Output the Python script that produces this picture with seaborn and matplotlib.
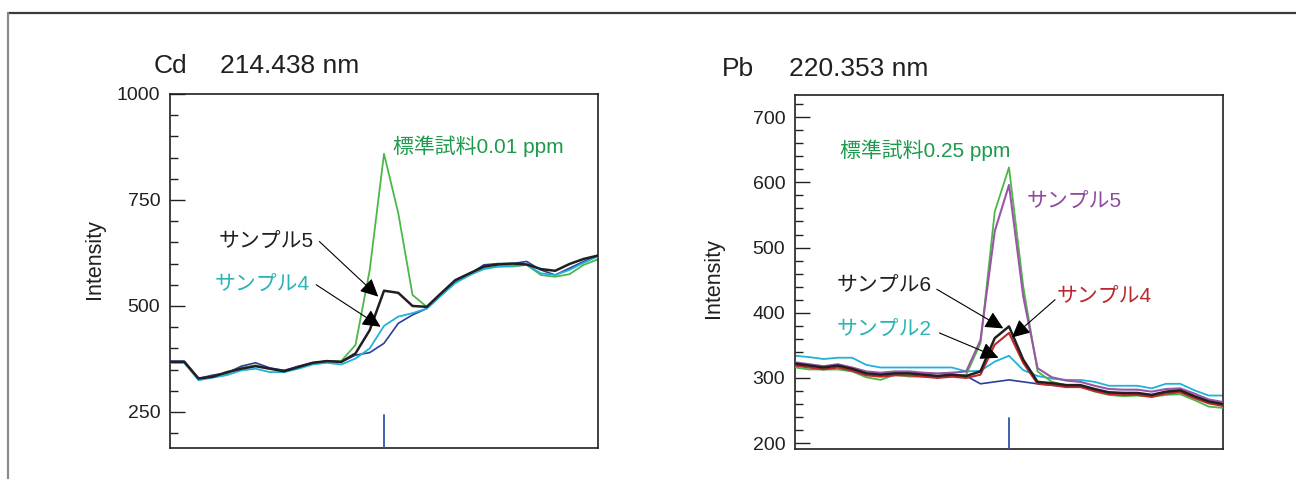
import matplotlib
matplotlib.use("Agg")
import matplotlib.pyplot as plt
from matplotlib.lines import Line2D
from matplotlib.ticker import MultipleLocator
import numpy as np
import pandas as pd
import seaborn as sns

# ---------------- data ----------------
idx = list(range(31))

cd_std = [368, 368, 327, 333, 340, 354, 360, 352, 348, 354, 364, 370, 370, 408, 585, 859, 719, 526,
          498, 530, 557, 573, 589, 593, 593, 597, 573, 569, 575, 597, 610]
cd_s5 = [368, 368, 329, 333, 344, 352, 358, 352, 346, 356, 366, 370, 368, 388, 443, 536, 531, 500,
         498, 530, 561, 577, 593, 598, 600, 598, 587, 583, 599, 611, 619]
cd_s4 = [366, 366, 325, 331, 337, 348, 352, 344, 344, 352, 362, 366, 362, 376, 400, 453, 475, 483,
         494, 525, 554, 573, 587, 593, 595, 597, 577, 573, 585, 602, 617]
cd_blank = [370, 370, 329, 337, 342, 358, 366, 354, 348, 358, 366, 370, 368, 384, 390, 412, 459, 479,
            494, 525, 555, 575, 597, 600, 600, 605, 585, 573, 589, 605, 618]

pb_std = [316, 313, 313, 313, 310, 301, 297, 305, 302, 302, 302, 302, 305, 353, 555, 623, 440, 310,
          294, 289, 287, 279, 274, 272, 273, 271, 274, 275, 266, 256, 254]
pb_s5 = [324, 321, 318, 321, 316, 310, 308, 310, 310, 308, 307, 308, 310, 358, 525, 596, 425, 315,
         301, 296, 294, 288, 283, 282, 282, 279, 283, 284, 276, 267, 263]
pb_s6 = [322, 319, 316, 319, 314, 307, 305, 307, 307, 305, 303, 305, 303, 310, 361, 379, 328, 294,
         292, 289, 289, 283, 278, 277, 277, 274, 279, 281, 272, 264, 260]
pb_s4 = [319, 316, 313, 316, 311, 304, 302, 304, 304, 302, 300, 302, 300, 305, 351, 369, 323, 291,
         289, 286, 286, 280, 275, 274, 274, 271, 276, 278, 269, 261, 257]
pb_s2 = [334, 332, 329, 331, 331, 320, 316, 316, 316, 316, 316, 316, 310, 311, 325, 334, 312, 303,
         299, 297, 297, 294, 288, 288, 288, 284, 291, 291, 281, 273, 273]
pb_blank = [322, 319, 316, 319, 314, 307, 305, 307, 307, 305, 303, 305, 303, 291, 294, 297, 294, 291,
            289, 287, 287, 282, 277, 276, 276, 273, 278, 280, 271, 263, 259]

title_el = ["Cd", "Pb"]
title_wl = ["214.438 nm", "220.353 nm"]
ylabel = "Intensity"
lbl_std = ["標準試料0.01 ppm", "標準試料0.25 ppm"]
lbl_s = ["サンプル2", "サンプル4", "サンプル5", "サンプル6"]

# ---------------- style ----------------
sns.set_theme(style="white")
plt.rcParams["font.family"] = ["Liberation Sans", "Noto Sans CJK JP", "DejaVu Sans"]

C_GREEN = "#4cb848"
C_GREEN_T = "#1e9a4c"
C_BLACK = "#231f20"
C_CYAN = "#1fb2da"
C_CYAN_T = "#2bb3b5"
C_BLUE = "#2b3f98"
C_PURPLE = "#9b55a8"
C_PURPLE_T = "#8e4a9e"
C_RED = "#c1272d"
C_RED_T = "#b8282e"
C_MARK = "#2e55a5"

fig = plt.figure(figsize=(12.96, 4.79), dpi=100)
fig.patch.set_facecolor("white")

ax1 = fig.add_axes([170 / 1296, 31 / 479, 428 / 1296, 354 / 479])
ax2 = fig.add_axes([795 / 1296, 30 / 479, 428 / 1296, 354 / 479])


def line(ax, y, color, lw, z):
    sns.lineplot(x=idx, y=y, ax=ax, color=color, lw=lw, zorder=z, legend=False)


# Cd panel
line(ax1, cd_std, C_GREEN, 1.3, 2)
line(ax1, cd_blank, C_BLUE, 1.2, 3)
line(ax1, cd_s4, C_CYAN, 1.3, 4)
line(ax1, cd_s5, C_BLACK, 1.8, 5)

# Pb panel
line(ax2, pb_s2, C_CYAN, 1.3, 2)
line(ax2, pb_blank, C_BLUE, 1.2, 3)
line(ax2, pb_std, C_GREEN, 1.3, 4)
line(ax2, pb_s5, C_PURPLE, 1.5, 5)
line(ax2, pb_s4, C_RED, 1.5, 6)
line(ax2, pb_s6, C_BLACK, 1.8, 7)

limits = [(165, 1000), (191, 734)]
majors = [250, 100]
minors = [50, 20]
marks = [0.093, 0.087]
ylab_x = [(105 - 170) / 428, (724 - 795) / 428]
ylab_y = [0.534, 0.483]

for i, ax in enumerate([ax1, ax2]):
    ax.set_xlim(0, 30)
    ax.set_ylim(*limits[i])
    ax.yaxis.set_major_locator(MultipleLocator(majors[i]))
    ax.yaxis.set_minor_locator(MultipleLocator(minors[i]))
    ax.set_xticks([])
    ax.tick_params(axis="y", which="major", direction="in", length=11, width=1.0,
                   color=C_BLACK, labelsize=14, labelcolor=C_BLACK, pad=7, left=True)
    ax.tick_params(axis="y", which="minor", direction="in", length=6, width=1.0,
                   color=C_BLACK, left=True)
    for s in ax.spines.values():
        s.set_visible(True)
        s.set_color(C_BLACK)
        s.set_linewidth(1.2)
    ax.set_xlabel("")
    ax.set_ylabel(ylabel, fontsize=15.5, color=C_BLACK)
    ax.yaxis.set_label_coords(ylab_x[i], ylab_y[i])
    ax.axvline(15, ymin=0, ymax=marks[i], color=C_MARK, lw=1.3, zorder=8)
    ax.set_facecolor("white")

ax1.set_yticks([250, 500, 750, 1000])
ax2.set_yticks([200, 300, 400, 500, 600, 700])

# titles
TS = 19
fig.text(154 / 1296, 1 - 73 / 479, title_el[0], fontsize=TS, color=C_BLACK, va="baseline")
fig.text(220 / 1296, 1 - 73 / 479, title_wl[0], fontsize=TS, color=C_BLACK, va="baseline")
fig.text(722 / 1296, 1 - 76 / 479, title_el[1], fontsize=TS, color=C_BLACK, va="baseline")
fig.text(789 / 1296, 1 - 76 / 479, title_wl[1], fontsize=TS, color=C_BLACK, va="baseline")

FS = 15
arrow = dict(arrowstyle="-|>,head_length=0.55,head_width=0.27", color="black", lw=0.8,
             shrinkA=0, shrinkB=0, mutation_scale=20)

# Cd annotations
ax1.text(15.6, 876, lbl_std[0], color=C_GREEN_T, fontsize=FS, ha="left", va="center")
ax1.text(10.1, 653, lbl_s[2], color=C_BLACK, fontsize=FS, ha="right", va="center")
ax1.text(9.8, 550, lbl_s[1], color=C_CYAN_T, fontsize=FS, ha="right", va="center")
ax1.annotate("", xy=(14.6, 522), xytext=(10.47, 652), arrowprops=arrow, zorder=9)
ax1.annotate("", xy=(14.76, 451), xytext=(10.25, 550), arrowprops=arrow, zorder=9)

# Pb annotations
ax2.text(3.16, 649, lbl_std[1], color=C_GREEN_T, fontsize=FS, ha="left", va="center")
ax2.text(16.25, 571, lbl_s[2], color=C_PURPLE_T, fontsize=FS, ha="left", va="center")
ax2.text(9.6, 442, lbl_s[3], color=C_BLACK, fontsize=FS, ha="right", va="center")
ax2.text(18.35, 425, lbl_s[1], color=C_RED_T, fontsize=FS, ha="left", va="center")
ax2.text(9.6, 374, lbl_s[0], color=C_CYAN_T, fontsize=FS, ha="right", va="center")
ax2.annotate("", xy=(14.6, 376), xytext=(9.94, 436), arrowprops=arrow, zorder=9)
ax2.annotate("", xy=(15.2, 362), xytext=(18.23, 420), arrowprops=arrow, zorder=9)
ax2.annotate("", xy=(14.26, 331), xytext=(10.12, 369), arrowprops=arrow, zorder=9)

# outer frame (top and left edges)
fy = 1 - 13 / 479
fx = 8 / 1296
fig.add_artist(Line2D([fx, 1], [fy, fy], transform=fig.transFigure, color="#3a3a3a", lw=1.6))
fig.add_artist(Line2D([fx, fx], [0, fy], transform=fig.transFigure, color="#8a8a8a", lw=1.6))

fig.savefig("out.png", dpi=100, facecolor="white")
